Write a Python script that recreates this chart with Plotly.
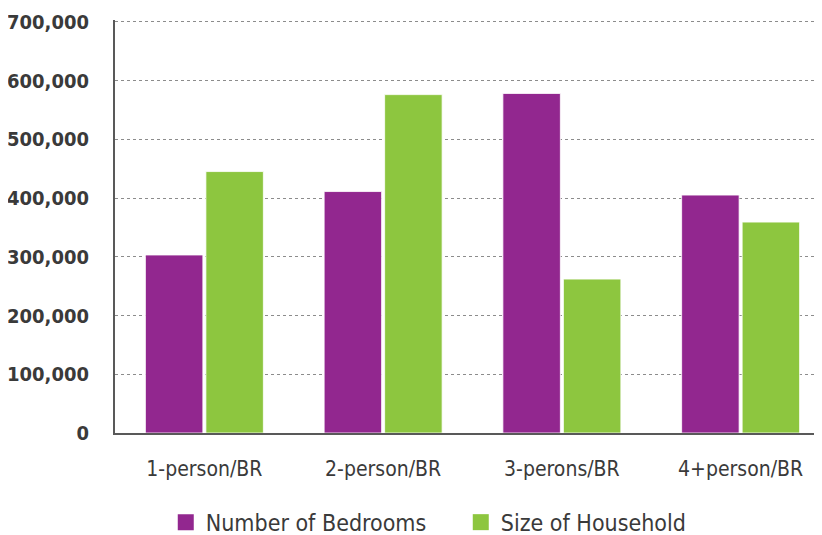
import plotly.graph_objects as go

categories = ["1-person/BR", "2-person/BR", "3-perons/BR", "4+person/BR"]
bedrooms = [303000, 411000, 578000, 405000]
household = [445000, 576000, 262000, 359000]
y_ticks = [0, 100000, 200000, 300000, 400000, 500000, 600000, 700000]
series_names = ["Number of Bedrooms", "Size of Household"]
series_colors = ["#92278F", "#8DC63F"]

FONT = "DejaVu Sans Condensed, Liberation Sans Narrow, Arial Narrow, sans-serif"
TXT = "#3a3a3a"

fig = go.Figure()
for name, vals, col in zip(series_names, [bedrooms, household], series_colors):
    fig.add_trace(go.Bar(name=name, x=categories, y=vals, showlegend=False,
                         marker=dict(color=col, line=dict(color="rgba(255,255,255,0.8)", width=1))))
# legend entries with larger square swatches
for name, col in zip(series_names, series_colors):
    fig.add_trace(go.Scatter(name=name, x=[None], y=[None], mode="markers",
                             marker=dict(symbol="square", size=17, color=col)))

# page body has an 8px default margin; compensate in margins
fig.update_layout(
    width=822, height=535,
    margin=dict(l=107, r=0, t=12, b=110, autoexpand=False),
    paper_bgcolor="white", plot_bgcolor="white",
    barmode="group", bargap=0.323, bargroupgap=0.05,
    font=dict(family=FONT, color=TXT),
    showlegend=True,
    legend=dict(orientation="h", x=0.071, xanchor="left", y=-0.216, yanchor="middle",
                font=dict(size=23, color=TXT), itemsizing="trace",
                traceorder="normal", itemwidth=30, entrywidth=250),
    xaxis=dict(range=[-0.5, 3.5], showgrid=False, showline=True, linecolor="#595959",
               linewidth=2, ticks="", tickfont=dict(size=21, color=TXT),
               automargin=False, ticklabelstandoff=16),
    yaxis=dict(range=[0, 703000], tickvals=y_ticks, tickformat=",", showgrid=True,
               gridcolor="#8c8c8c", griddash="dot", gridwidth=1, showline=True,
               linecolor="#595959", linewidth=2, ticks="", zeroline=False,
               automargin=False,
               tickfont=dict(size=20, color=TXT, weight="bold"), ticklabelstandoff=20),
)

fig.write_html("out.html")
